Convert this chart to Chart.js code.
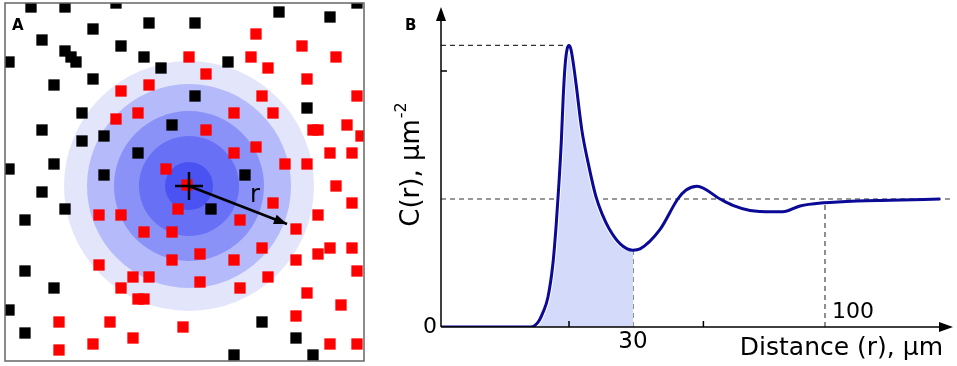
<!DOCTYPE html>
<html>
<head>
<meta charset="utf-8">
<script src="https://cdn.jsdelivr.net/npm/chart.js@4/dist/chart.umd.min.js"></script>
<style>
  body { margin: 0; background: #fff; }
  #chartA { position: absolute; left: 0; top: 0; }
  #chartB { position: absolute; left: 370px; top: 0; }
</style>
</head>
<body>
<canvas id="chartA" width="370" height="366"></canvas>
<canvas id="chartB" width="587" height="366"></canvas>
<script>
// ---- panel A: cell positions in the field ----
const blackCells = [
  [31,7],[65,7],[116,3],[279,12],[330,17],[357,3],[149,23],[195,23],[93,29],[42,40],
  [121,46],[65,51],[71,57],[76,62],[9,62],[144,57],[161,68],[228,62],[93,79],[54,85],
  [195,96],[307,108],[82,113],[172,125],[42,130],[82,141],[104,136],[138,153],[9,169],[54,164],
  [104,175],[245,175],[42,192],[65,209],[211,209],[25,220],[25,271],[54,288],[9,310],[25,333],
  [262,322],[296,338],[234,355],[313,355]
];
const redCells = [
  [256,34],[302,46],[189,57],[251,57],[336,57],[206,74],[268,68],[307,79],[149,85],[121,91],
  [262,96],[357,96],[138,113],[234,113],[273,113],[116,119],[206,130],[313,130],[318,130],[347,125],
  [361,136],[256,147],[234,153],[330,153],[352,153],[166,169],[285,164],[307,164],[187,185],[336,186],
  [273,203],[352,203],[178,209],[99,215],[121,215],[240,220],[318,215],[296,229],[144,232],[172,232],
  [262,248],[330,248],[318,254],[352,248],[200,254],[172,260],[234,260],[296,260],[99,265],[357,271],
  [133,277],[149,277],[268,277],[200,282],[121,288],[240,288],[307,293],[138,299],[144,299],[341,305],
  [59,322],[110,322],[183,327],[296,316],[133,338],[93,344],[59,350],[330,344],[357,344]
];
const focusCell = [189, 186];
const ringRadii = [125, 102, 75, 50, 24];
const ringColors = ['#e3e5fb', '#b5bafa', '#8b92f7', '#6870f5', '#4a52f2'];
const arrowEnd = [287, 224];

// ---- panel B: pair correlation curve ----
const distance = [0, 14, 15.2, 15.9, 16.7, 17.5, 18.0, 18.4, 18.8, 19.1, 19.4, 19.7, 20, 20.3, 20.7, 21.1,
  22.0, 23.0, 24.2, 25.2, 26.25, 28.0, 30, 31.1, 34.2, 37.0, 38.3, 40, 43.6, 45.6, 48.3, 51.9, 53.4,
  56.1, 59.8, 65, 70.2, 78];
const correlation = [0, 0, 0.04, 0.11, 0.23, 0.5, 0.8, 1.1, 1.45, 1.8, 2.05, 2.17, 2.2, 2.17, 2.05, 1.9,
  1.54, 1.28, 1.02, 0.88, 0.77, 0.65, 0.6, 0.61, 0.76, 1.0, 1.07, 1.1, 1.0, 0.95, 0.91, 0.9, 0.9,
  0.945, 0.97, 0.985, 0.99, 1.0];
const peakValue = 2.2, peakPos = 20;
const levelValue = 1.0;
const firstMin = [30, 0.6];
const farPoint = [60, 0.97];
const xTicks = [20, 41];
const yTicks = [2];

const pts = (xs, ys) => xs.map((x, i) => ({ x: x, y: ys[i] }));
const cells = arr => arr.map(p => ({ x: p[0], y: p[1] }));

const panelA = {
  id: 'panelA',
  afterDatasetsDraw(chart) {
    const { ctx, chartArea: a, scales: { x, y } } = chart;
    ctx.save();
    // arrowhead
    const x0 = x.getPixelForValue(focusCell[0]), y0 = y.getPixelForValue(focusCell[1]);
    const x1 = x.getPixelForValue(arrowEnd[0]), y1 = y.getPixelForValue(arrowEnd[1]);
    const ang = Math.atan2(y1 - y0, x1 - x0);
    ctx.translate(x1, y1); ctx.rotate(ang);
    ctx.beginPath(); ctx.moveTo(0, 0); ctx.lineTo(-13, -5); ctx.lineTo(-13, 5); ctx.closePath();
    ctx.fillStyle = '#000'; ctx.fill();
    ctx.restore();
    ctx.save();
    ctx.strokeStyle = '#666'; ctx.lineWidth = 1.5;
    ctx.strokeRect(a.left, a.top, a.right - a.left, a.bottom - a.top);
    ctx.fillStyle = '#000';
    ctx.font = 'bold 15px "DejaVu Sans"';
    ctx.textBaseline = 'alphabetic';
    ctx.fillText('A', 12, 30);
    ctx.font = '24px "DejaVu Sans"';
    ctx.textAlign = 'center'; ctx.textBaseline = 'middle';
    ctx.fillText('r', x.getPixelForValue(255), y.getPixelForValue(196));
    ctx.restore();
  }
};

new Chart(document.getElementById('chartA'), {
  type: 'scatter',
  data: {
    datasets: [
      { data: [{ x: focusCell[0], y: focusCell[1] }], pointStyle: 'cross', pointRadius: 14,
        borderColor: '#000', borderWidth: 2.5, order: 0 },
      { type: 'line', data: [{ x: focusCell[0], y: focusCell[1] }, { x: arrowEnd[0], y: arrowEnd[1] }],
        borderColor: '#000', borderWidth: 2.5, pointRadius: 0, order: 1 },
      { data: cells(redCells), pointStyle: 'rect', pointRadius: 8, borderWidth: 0,
        backgroundColor: '#ff0000', order: 2 },
      { data: cells(blackCells), pointStyle: 'rect', pointRadius: 8, borderWidth: 0,
        backgroundColor: '#000', order: 3 },
      ...ringRadii.map((r, i) => ({
        type: 'bubble', data: [{ x: focusCell[0], y: focusCell[1], r: r }],
        backgroundColor: ringColors[i], borderWidth: 0, order: 10 - i
      }))
    ]
  },
  options: {
    responsive: false, animation: false, devicePixelRatio: 1,
    layout: { autoPadding: false, padding: { left: 5, top: 3, right: 6, bottom: 5 } },
    plugins: { legend: { display: false }, tooltip: { enabled: false } },
    scales: {
      x: { type: 'linear', display: false, min: 5, max: 364 },
      y: { type: 'linear', display: false, min: 3, max: 361, reverse: true }
    }
  },
  plugins: [panelA]
});

const panelB = {
  id: 'panelB',
  afterDatasetsDraw(chart) {
    const { ctx, chartArea: a, scales: { x, y } } = chart;
    const x0 = x.getPixelForValue(0), y0 = y.getPixelForValue(0);
    ctx.save();
    ctx.strokeStyle = '#000'; ctx.fillStyle = '#000'; ctx.lineWidth = 1.5;
    ctx.beginPath();
    ctx.moveTo(x0, y0); ctx.lineTo(x0, a.top + 10);
    ctx.moveTo(x0, y0); ctx.lineTo(a.right - 10, y0);
    yTicks.forEach(v => { const p = y.getPixelForValue(v); ctx.moveTo(x0, p); ctx.lineTo(x0 + 6, p); });
    xTicks.forEach(v => { const p = x.getPixelForValue(v); ctx.moveTo(p, y0); ctx.lineTo(p, y0 - 6); });
    ctx.stroke();
    ctx.beginPath();
    ctx.moveTo(x0, a.top); ctx.lineTo(x0 - 5, a.top + 14); ctx.lineTo(x0 + 5, a.top + 14); ctx.closePath();
    ctx.moveTo(a.right, y0); ctx.lineTo(a.right - 14, y0 - 5); ctx.lineTo(a.right - 14, y0 + 5); ctx.closePath();
    ctx.fill();

    ctx.font = '22px "DejaVu Sans"';
    ctx.textAlign = 'right'; ctx.textBaseline = 'middle';
    ctx.fillText('0', x0 - 4, y0);
    ctx.textAlign = 'center'; ctx.textBaseline = 'top';
    ctx.font = '23px "DejaVu Sans"';
    ctx.fillText('30', x.getPixelForValue(firstMin[0]), y0 + 4);
    ctx.font = '22px "DejaVu Sans"';
    ctx.textAlign = 'left'; ctx.textBaseline = 'alphabetic';
    ctx.fillText('100', x.getPixelForValue(farPoint[0]) + 7, y0 - 9);

    ctx.font = '25px "DejaVu Sans"';
    ctx.textAlign = 'right';
    ctx.fillText('Distance (r), µm', a.right - 10, y0 + 28);

    ctx.translate(42, 165); ctx.rotate(-Math.PI / 2);
    const main = 'C(r), µm';
    ctx.font = '26px "DejaVu Sans"';
    const w1 = ctx.measureText(main).width;
    ctx.font = '16px "DejaVu Sans"';
    const w2 = ctx.measureText('-2').width;
    const start = -(w1 + w2) / 2;
    ctx.textAlign = 'left'; ctx.textBaseline = 'middle';
    ctx.font = '26px "DejaVu Sans"';
    ctx.fillText(main, start, 0);
    ctx.font = '16px "DejaVu Sans"';
    ctx.fillText('-2', start + w1 + 1, -10);
    ctx.restore();

    ctx.save();
    ctx.font = 'bold 15px "DejaVu Sans"';
    ctx.fillStyle = '#000';
    ctx.fillText('B', 35, 30);
    ctx.restore();
  }
};

const guide = (data) => ({
  type: 'line', data: data, borderColor: '#333', borderWidth: 1.1, borderDash: [5, 4],
  pointRadius: 0, fill: false, order: 5
});

new Chart(document.getElementById('chartB'), {
  type: 'line',
  data: {
    datasets: [
      { data: pts(distance, correlation), borderColor: '#0a0a96', borderWidth: 3, pointRadius: 0,
        cubicInterpolationMode: 'monotone', fill: false, order: 0 },
      { data: pts(distance, correlation).filter(p => p.x <= firstMin[0]), borderColor: '#fff', borderWidth: 5,
        backgroundColor: 'rgb(211,218,250)', pointRadius: 0, cubicInterpolationMode: 'monotone',
        fill: 'origin', order: 1 },
      guide([{ x: 0, y: peakValue }, { x: peakPos, y: peakValue }]),
      guide([{ x: 0, y: levelValue }, { x: 80, y: levelValue }]),
      guide([{ x: firstMin[0], y: 0 }, { x: firstMin[0], y: firstMin[1] }]),
      guide([{ x: farPoint[0], y: 0 }, { x: farPoint[0], y: farPoint[1] }])
    ]
  },
  options: {
    responsive: false, animation: false, devicePixelRatio: 1,
    layout: { autoPadding: false, padding: { left: 71, top: 7, right: 4, bottom: 39 } },
    plugins: { legend: { display: false }, tooltip: { enabled: false } },
    scales: {
      x: { type: 'linear', display: false, min: 0, max: 80 },
      y: { type: 'linear', display: false, min: 0, max: 2.5 }
    }
  },
  plugins: [panelB]
});
</script>
</body>
</html>
